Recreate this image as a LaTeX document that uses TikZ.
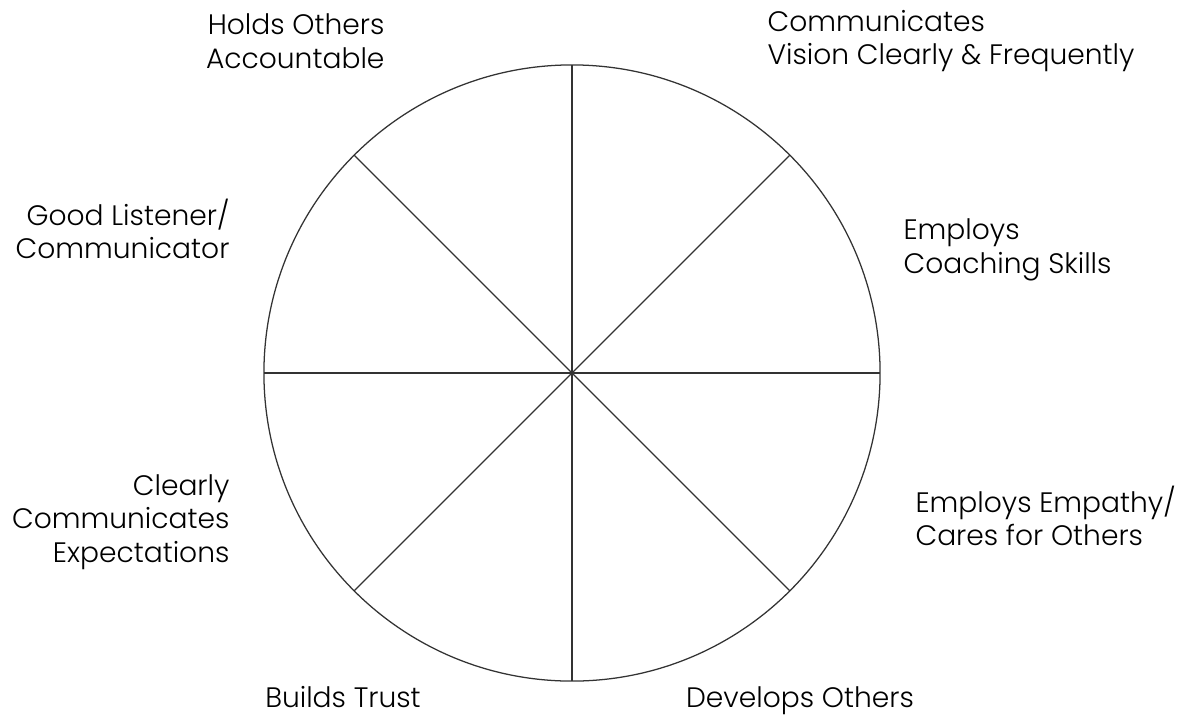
\documentclass[tikz,border=0pt]{standalone}
\usepackage{fontspec}
\setmainfont{Poppins}[UprightFont=* Light]
\usepackage{tikz}

\begin{document}
\begin{tikzpicture}[x=0.025cm, y=-0.025cm, thick,
      wheel line/.style={draw=black!80, line width=0.9pt},
      trait/.style={inner sep=0pt, font=\fontsize{20}{24}\selectfont}]

      \useasboundingbox (0,0) rectangle (1184,719);

      \node[circle, wheel line, minimum size=15.4cm, inner sep=0pt, outer sep=0pt] (wheel) at (572,373) {};
      \foreach \a in {45,90,...,315}
        \draw[wheel line] (wheel.center) -- (wheel.\a);
      \draw[wheel line, line width=1.5pt] (wheel.180) -- (wheel.0);

      \node[trait, anchor=east, align=right] (hold) at (385,41) {Holds Others\\Accountable};
      \node[trait, anchor=west, align=left] (vision) at (767,41) {Communicates\\Vision Clearly \& Frequently};
      \node[trait, anchor=east, align=right] (listen) at (230,229) {Good Listener/\\Communicator};
      \node[trait, anchor=west, align=left] (coach) at (903,250) {Employs\\Coaching Skills};
      \node[trait, anchor=west, align=left] (empathy) at (915,516) {Employs Empathy/\\Cares for Others};
      \node[trait, anchor=east, align=right] (expect) at (230,522) {Clearly\\Communicates\\Expectations};
      \node[trait, anchor=base] (trust) at (343,707) {Builds Trust};
      \node[trait, anchor=base] (develop) at (800,707) {Develops Others};
    \end{tikzpicture}
\end{document}
